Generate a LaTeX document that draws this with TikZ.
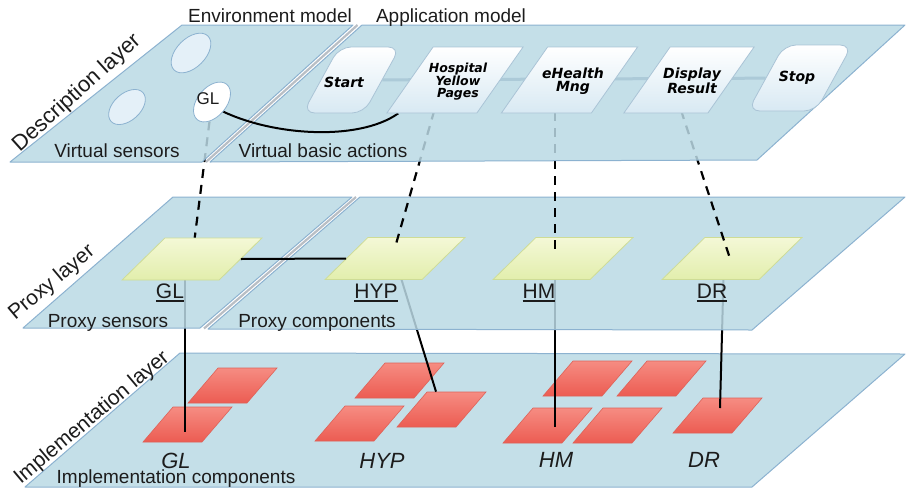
\documentclass[tikz,border=0pt]{standalone}
\usepackage{fontspec}
\setmainfont{Liberation Sans}
\newfontfamily\boxfont{DejaVu Sans Bold Oblique}
\usetikzlibrary{calc,shapes.geometric}

\definecolor{planefill}{RGB}{186,217,228}
\definecolor{planeedge}{RGB}{140,178,208}
\definecolor{gapgray}{RGB}{185,190,196}
\definecolor{flowband}{RGB}{172,202,216}
\definecolor{boxedge}{RGB}{170,196,214}
\definecolor{boxlow}{RGB}{216,233,243}
\definecolor{ellfill}{RGB}{228,240,248}
\definecolor{ylwtop}{RGB}{244,248,214}
\definecolor{ylwlow}{RGB}{226,238,172}
\definecolor{ylwedge}{RGB}{206,220,150}
\definecolor{redtop}{RGB}{246,140,130}
\definecolor{redlow}{RGB}{236,92,82}
\definecolor{rededge}{RGB}{222,98,88}
\definecolor{ink}{RGB}{28,28,28}

% thick underline for the proxy names
\newcommand\prxul[1]{\setbox0=\hbox{#1}\rlap{\vrule height -2.3pt depth 3.8pt width \wd0}\box0}

\pgfdeclarelayer{implayer}
\pgfdeclarelayer{lowlinks}
\pgfdeclarelayer{proxylayer}
\pgfdeclarelayer{uplinks}
\pgfdeclarelayer{descplane}
\pgfsetlayers{implayer,lowlinks,proxylayer,uplinks,descplane,main}

\tikzset{
  plane/.style={fill=planefill, fill opacity=0.85, draw=planeedge, line width=1pt, line join=round},
  gap/.style={draw=gapgray, line width=2.2pt},
  lbl/.style={font=\fontsize{19}{22}\selectfont, text=ink, inner sep=0pt, anchor=base},
  layerlbl/.style={font=\fontsize{21}{24}\selectfont, text=ink, inner sep=0pt, rotate=40},
  prxlbl/.style={font=\fontsize{21}{24}\selectfont, text=ink, inner sep=0pt, anchor=base},
  implbl/.style={font=\fontsize{22}{26}\selectfont\itshape, text=ink, inner sep=0pt, anchor=base},
  redbox/.style={draw=rededge, line width=0.6pt, top color=redtop, bottom color=redlow,
    minimum width=59pt, minimum height=35pt, inner sep=0pt, xslant=0.857},
  ylwbox/.style={draw=ylwedge, line width=0.8pt, top color=ylwtop, bottom color=ylwlow,
    minimum width=97pt, minimum height=42pt, inner sep=0pt, xslant=1.02},
  boxbase/.style={draw=boxedge, line width=0.8pt, top color=white, bottom color=boxlow,
    minimum height=66pt, inner sep=0pt},
  actbox/.style={boxbase, xslant=0.7},
  termbox/.style={boxbase, xslant=0.55, rounded corners=12pt},
  acttext/.style={font=\boxfont\fontsize{14}{12.5}\selectfont, align=center, inner sep=0pt, text=black},
  envell/.style={ellipse, draw=planeedge, line width=0.8pt, fill=ellfill, inner sep=0pt},
  link/.style={draw=black, line width=2pt},
  dlink/.style={draw=black, line width=2.2pt, dash pattern=on 9pt off 7pt},
  flow/.style={draw=flowband, line width=3pt},
}

\begin{document}
\begin{tikzpicture}[x=1pt,y=-1pt]
\useasboundingbox (0,0) rectangle (907,493);

% ---------------- implementation layer ----------------
\begin{pgfonlayer}{implayer}
\draw[plane] (25,487) -- (752,487) -- (905,354) -- (180,353) -- cycle;
\node[redbox] (iGLa)  at (232.5,385.5) {};
\node[redbox] (iGLb)  at (187.5,424.5) {};
\node[redbox] (iHYPa) at (399.5,380.5) {};
\node[redbox] (iHYPb) at (359.5,423.5) {};
\node[redbox] (iHYPc) at (441.5,409.5) {};
\node[redbox] (iHMa)  at (587.5,378.5) {};
\node[redbox] (iHMb)  at (661.5,378.5) {};
\node[redbox] (iHMc)  at (547.5,425.5) {};
\node[redbox] (iHMd)  at (617.5,425.5) {};
\node[redbox] (iDR)   at (717.5,415.5) {};
\node[implbl] (tGLi)  at (176,468) {GL};
\node[implbl] (tHYPi) at (382,468) {HYP};
\node[implbl] (tHMi)  at (556,467) {HM};
\node[implbl] (tDRi)  at (704,467) {DR};
\node[lbl] (tImplComp) at (176,483) {Implementation components};
\node[layerlbl] (tImplLayer) at (92,418) {Implementation layer};
\end{pgfonlayer}

% ---------------- proxy layer ----------------
\begin{pgfonlayer}{proxylayer}
\draw[plane] (23,328) -- (200,328) -- (352,197) -- (173,197) -- cycle;
\draw[plane] (208,329) -- (752,330) -- (905,197) -- (360,197) -- cycle;
\draw[gap] (204,328.5) -- (356,197);
\node[ylwbox] (pGL)  at (192,259) {};
\node[ylwbox] (pHYP) at (395,258.5) {};
\node[ylwbox] (pHM)  at (563,258.5) {};
\node[ylwbox] (pDR)  at (732,258.5) {};
\draw[link] (pGL.east) -- (pHYP.west);
\node[prxlbl] (tGLp)  at (170,298) {\prxul{GL}};
\node[prxlbl] (tHYPp) at (376,298) {\prxul{HYP}};
\node[prxlbl] (tHMp)  at (539,298) {\prxul{HM}};
\node[prxlbl] (tDRp)  at (712,298) {\prxul{DR}};
\node[lbl] (tPrxSens) at (108,327) {Proxy sensors};
\node[lbl] (tPrxComp) at (317,327) {Proxy components};
\node[layerlbl] (tPrxLayer) at (52,283) {Proxy layer};
\end{pgfonlayer}

% proxy -> implementation links (seen through the proxy plane)
\begin{pgfonlayer}{lowlinks}
\draw[link] ($(pGL)+(-7,0)$) -- ($(iGLb)+(-2.5,7.5)$);
\draw[link] (pHYP) -- (iHYPc);
\draw[link] ($(pHM)+(-8,0)$) -- ($(iHMc)+(7.5,1.5)$);
\draw[link] ($(pDR)+(-8,0)$) -- ($(iDR)+(2.5,-7.5)$);
\end{pgfonlayer}

% ---------------- description layer ----------------
\node[envell, minimum width=48pt, minimum height=29pt, rotate=45] (eTop) at (191,53) {};
\node[envell, minimum width=43pt, minimum height=27pt, rotate=42] (eLeft) at (127,107) {};
\node[envell, fill=white, minimum width=46pt, minimum height=29pt, rotate=50] (eGL) at (212,102) {};
\node[font=\fontsize{17}{20}\selectfont, text=ink, inner sep=0pt] (tGLd) at (208,99) {GL};

\node[termbox, minimum width=61pt] (dStart) at (351.5,80) {};
\node[actbox, minimum width=90pt] (dHYP) at (455,80) {};
\node[actbox, minimum width=90pt] (dHM) at (569.5,80) {};
\node[actbox, minimum width=84pt] (dDR) at (689,80) {};
\node[termbox, minimum width=68pt] (dStop) at (800,78) {};
\node[acttext] (tStart) at (344,82) {Start};
\node[acttext, font=\boxfont\fontsize{12.5}{12}\selectfont] (tHYPd) at (458,82) {Hospital\\Yellow\\Pages};
\node[acttext] (tHMd) at (573,81) {eHealth\\Mng};
\node[acttext] (tDRd) at (692,80.5) {Display\\Result};
\node[acttext] (tStop) at (797,78) {Stop};

\node[lbl] (tEnv) at (270,22) {Environment model};
\node[lbl] (tApp) at (451,22) {Application model};
\node[lbl] (tVS)  at (117,157) {Virtual sensors};
\node[lbl] (tVBA) at (323,157) {Virtual basic actions};
\node[layerlbl, font=\fontsize{22}{26}\selectfont, rotate=2] (tDescLayer) at (77,93) {Description layer};

\begin{pgfonlayer}{descplane}
\draw[plane] (10,162) -- (202,162) -- (353,25) -- (182,25) -- cycle;
\draw[plane] (210,162) -- (757,160) -- (905,25) -- (362,25) -- cycle;
\draw[gap] (206,162) -- (357.5,25);
\draw[flow] (dStart) -- (dStop);
\draw[link] ($(eGL)+(4,6)$) .. controls (268,136) and (358,142) .. ($(dHYP.south west)+(12,0)$);
\end{pgfonlayer}

% description -> proxy links (seen through the description plane)
\begin{pgfonlayer}{uplinks}
\draw[dlink] (eGL) -- (pGL);
\draw[dlink] ($(dHYP)+(-12,0)$) -- ($(pHYP)+(0,-11)$);
\draw[dlink] ($(dHM)+(-14.5,0)$) -- ($(pHM)+(-8,-5)$);
\draw[dlink] ($(dDR)+(-18,0)$) -- ($(pDR)+(-2,0)$);
\end{pgfonlayer}

\end{tikzpicture}
\end{document}
